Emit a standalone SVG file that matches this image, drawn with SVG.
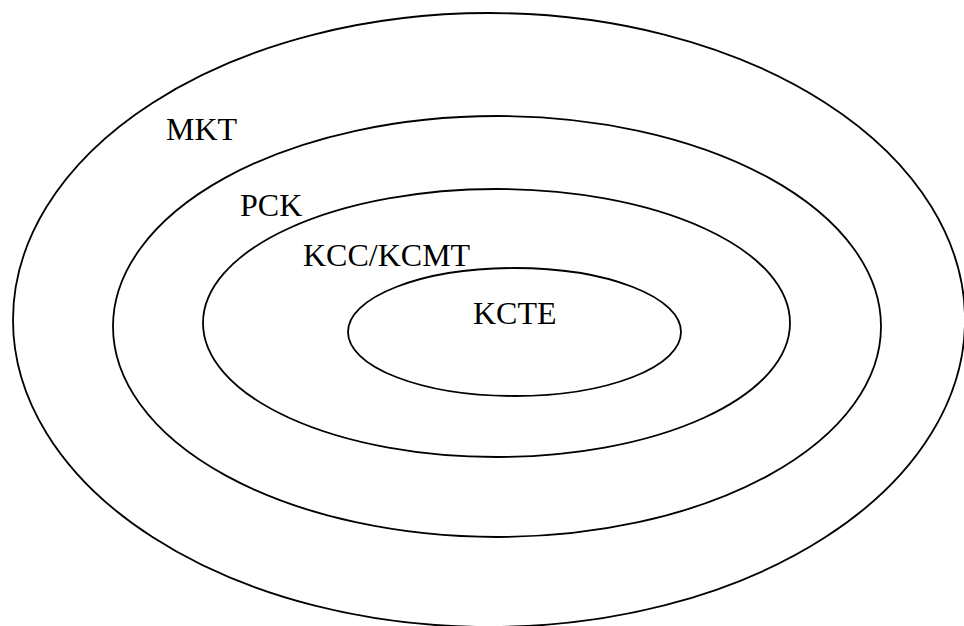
<svg xmlns="http://www.w3.org/2000/svg" width="964" height="626" viewBox="0 0 964 626">
<style>
.e{fill:none;stroke:#000;stroke-width:1.8}
.t{font-family:"Liberation Serif","Times New Roman",serif;font-size:32px;fill:#000}
</style>
<rect width="964" height="626" fill="#fff"/>
<g id="mkt"><ellipse class="e" cx="489" cy="320" rx="476" ry="307"/><text class="t" x="166" y="140">MKT</text></g>
<g id="pck"><ellipse class="e" cx="497" cy="326.5" rx="384" ry="210.5"/><text class="t" x="240" y="216">PCK</text></g>
<g id="kcc"><ellipse class="e" cx="496.5" cy="323" rx="293.5" ry="134"/><text class="t" x="303" y="266">KCC/KCMT</text></g>
<g id="kcte"><ellipse class="e" cx="514.5" cy="332" rx="166.5" ry="64"/><text class="t" x="473" y="324">KCTE</text></g>
<g id="connectors"/>
</svg>
